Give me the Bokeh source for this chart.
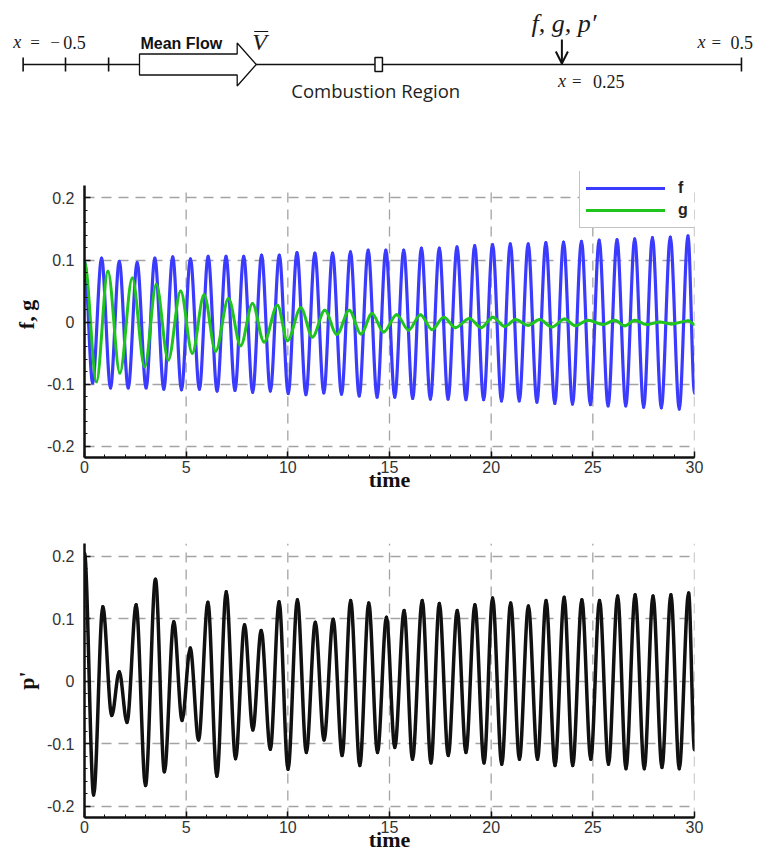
import numpy as np
from bokeh.plotting import figure
from bokeh.layouts import column, row
from bokeh.models import Range1d, FixedTicker, Legend, LegendItem, ColumnDataSource
from bokeh.core.properties import value
from bokeh.embed import file_html
from bokeh.resources import INLINE

# ---------------- data (extrema of each signal) ----------------
F_TIME = [0.00, 0.40, 0.84, 1.28, 1.71, 2.15, 2.59, 3.03, 3.46, 3.90, 4.34, 4.77, 5.21, 5.65,
          6.08, 6.52, 6.96, 7.40, 7.83, 8.27, 8.71, 9.14, 9.58, 10.02, 10.45, 10.89, 11.33,
          11.77, 12.20, 12.64, 13.08, 13.51, 13.95, 14.39, 14.82, 15.26, 15.70, 16.14, 16.57,
          17.01, 17.45, 17.88, 18.32, 18.76, 19.19, 19.63, 20.07, 20.51, 20.94, 21.38, 21.82,
          22.25, 22.69, 23.13, 23.56, 24.00, 24.44, 24.88, 25.31, 25.75, 26.19, 26.62, 27.06,
          27.50, 27.93, 28.37, 28.81, 29.25, 29.68, 30.00]
F_VALUE = [0.098, -0.098, 0.103, -0.106, 0.098, -0.106, 0.096, -0.106, 0.103, -0.108, 0.105,
           -0.109, 0.102, -0.108, 0.106, -0.111, 0.106, -0.110, 0.106, -0.113, 0.108, -0.111,
           0.108, -0.115, 0.112, -0.117, 0.111, -0.114, 0.111, -0.116, 0.113, -0.119, 0.116,
           -0.121, 0.116, -0.121, 0.116, -0.123, 0.119, -0.124, 0.119, -0.124, 0.121, -0.125,
           0.123, -0.125, 0.125, -0.127, 0.126, -0.127, 0.126, -0.129, 0.128, -0.131, 0.129,
           -0.132, 0.130, -0.133, 0.132, -0.135, 0.133, -0.135, 0.134, -0.137, 0.136, -0.138,
           0.137, -0.140, 0.139, -0.115]

G_TIME = [0.00, 0.59, 1.15, 1.74, 2.35, 2.96, 3.53, 4.12, 4.73, 5.30, 5.88, 6.45, 7.08, 7.68,
          8.26, 8.83, 9.49, 9.98, 10.64, 11.21, 11.82, 12.41, 13.02, 13.60, 14.14, 14.71,
          15.35, 15.94, 16.52, 17.09, 17.67, 18.24, 18.93, 19.51, 20.08, 20.66, 21.20, 21.81,
          22.38, 22.99, 23.61, 24.14, 24.76, 25.50, 26.08, 26.57, 27.06, 27.64, 28.29, 28.87,
          29.69, 30.00]
G_VALUE = [0.098, -0.096, 0.082, -0.082, 0.071, -0.072, 0.061, -0.061, 0.050, -0.050, 0.044,
           -0.047, 0.038, -0.038, 0.030, -0.032, 0.027, -0.030, 0.023, -0.024, 0.019, -0.020,
           0.019, -0.019, 0.014, -0.016, 0.012, -0.013, 0.012, -0.012, 0.008, -0.009, 0.006,
           -0.009, 0.008, -0.007, 0.004, -0.005, 0.004, -0.008, 0.005, -0.006, 0.003, -0.004,
           0.003, -0.006, 0.003, -0.004, 0.000, -0.003, 0.002, -0.004]

P_TIME = [0.00, 0.45, 0.90, 1.34, 1.71, 2.09, 2.54, 3.00, 3.49, 3.93, 4.39, 4.80, 5.20, 5.61,
          6.07, 6.51, 6.97, 7.43, 7.87, 8.28, 8.69, 9.14, 9.57, 10.01, 10.47, 10.91, 11.35,
          11.78, 12.23, 12.67, 13.09, 13.54, 13.98, 14.41, 14.85, 15.26, 15.72, 16.13, 16.61,
          17.04, 17.45, 17.89, 18.33, 18.76, 19.20, 19.65, 20.07, 20.52, 20.96, 21.39, 21.83,
          22.28, 22.70, 23.14, 23.59, 24.01, 24.46, 24.90, 25.33, 25.77, 26.22, 26.63, 27.08,
          27.53, 27.96, 28.40, 28.84, 29.25, 29.71, 30.00]
P_VALUE = [0.205, -0.182, 0.119, -0.055, 0.015, -0.066, 0.122, -0.167, 0.163, -0.145, 0.095,
           -0.063, 0.053, -0.094, 0.126, -0.152, 0.143, -0.124, 0.090, -0.078, 0.081, -0.109,
           0.127, -0.141, 0.130, -0.114, 0.094, -0.094, 0.099, -0.119, 0.129, -0.135, 0.125,
           -0.114, 0.102, -0.106, 0.113, -0.125, 0.129, -0.131, 0.124, -0.119, 0.113, -0.114,
           0.122, -0.131, 0.133, -0.133, 0.125, -0.125, 0.120, -0.125, 0.129, -0.135, 0.134,
           -0.135, 0.130, -0.125, 0.129, -0.133, 0.136, -0.140, 0.138, -0.140, 0.136, -0.138,
           0.138, -0.140, 0.141, -0.110]

X_TICKS = [0, 5, 10, 15, 20, 25, 30]
X_TICK_LABELS = ["0", "5", "10", "15", "20", "25", "30"]
Y_TICKS = [-0.2, -0.1, 0.0, 0.1, 0.2]
Y_TICK_LABELS = ["-0.2", "-0.1", "0", "0.1", "0.2"]
SERIES_LABELS = ["f", "g"]
Y_LOW, Y_HIGH = -0.218, 0.22

# schematic (domain coordinates x in [-0.5, 0.5])
DOMAIN = (-0.5, 0.5)
INLET_MARKS = [-0.5, -0.441, -0.381, 0.5]
FLOW_TAIL, FLOW_HEAD_BASE, FLOW_TIP = -0.338, -0.202, -0.1755
FLAME_X = -0.005
PROBE_X = 0.25

SERIF = "Liberation Serif"
SANS = "Liberation Sans"


def txt(p, x, y, text, size, font=SERIF, style="normal", dx=0, align="left", color="#1a1a1a"):
    p.text(x=[x], y=[y], text=[text], x_offset=dx, text_font=value(font),
           text_font_size=size, text_font_style=style, text_align=align,
           text_baseline="middle", text_color=color)


# ---------------- schematic ----------------
sch = figure(width=760, height=124, x_range=Range1d(-0.5315, 0.5265), y_range=Range1d(-60, 64),
             output_backend="svg", toolbar_location=None, min_border=0,
             min_border_left=0, min_border_right=0, min_border_top=0, min_border_bottom=0,
             x_axis_location=None, y_axis_location=None)
sch.grid.visible = False
sch.outline_line_color = None

sch.segment(x0=[DOMAIN[0]], y0=[0], x1=[DOMAIN[1]], y1=[0], line_color="#111111", line_width=1.6)
sch.segment(x0=INLET_MARKS, y0=[-7] * len(INLET_MARKS), x1=INLET_MARKS, y1=[7] * len(INLET_MARKS),
            line_color="#111111", line_width=1.6)
sch.patch(x=[FLOW_TAIL, FLOW_HEAD_BASE, FLOW_HEAD_BASE, FLOW_TIP, FLOW_HEAD_BASE, FLOW_HEAD_BASE, FLOW_TAIL],
          y=[10.5, 10.5, 21.5, 0, -21.5, -10.5, -10.5], fill_color="white", line_color="#111111",
          line_width=1.3)
sch.quad(left=[FLAME_X - 0.0052], right=[FLAME_X + 0.0052], bottom=[-7], top=[7],
         fill_color="white", line_color="#111111", line_width=1.5)
sch.segment(x0=[PROBE_X], y0=[25], x1=[PROBE_X], y1=[1], line_color="#111111", line_width=2)
sch.multi_line(xs=[[PROBE_X - 0.0084, PROBE_X, PROBE_X + 0.0084]], ys=[[13, 1, 13]],
               line_color="#111111", line_width=2)
sch.segment(x0=[FLOW_TIP - 0.0028], y0=[33], x1=[FLOW_TIP + 0.0167], y1=[33],
            line_color="#111111", line_width=1.2)

txt(sch, FLOW_TAIL, 21, "Mean Flow", "16px", font=SANS, style="bold", dx=1, color="#111111")
txt(sch, FLOW_TIP, 22.5, "V", "24px", style="italic", dx=-4)
txt(sch, FLAME_X, -25.5, "Combustion Region", "18.5px", font="Open Sans", align="center", dx=-3,
    color="#222222")
txt(sch, PROBE_X, 41, "f, g, p\u2032", "26px", style="italic", align="center", dx=2)
# x = 0.25
txt(sch, PROBE_X, -16.5, "x", "18px", style="italic", dx=-4)
txt(sch, PROBE_X, -16.5, "=", "17px", dx=10)
txt(sch, PROBE_X, -16.5, "0.25", "18px", dx=31)
# x = -0.5
txt(sch, DOMAIN[0], 22.5, "x", "18px", style="italic", dx=-10)
txt(sch, DOMAIN[0], 22.5, "=", "17px", dx=7)
txt(sch, DOMAIN[0], 22.5, "\u2212", "17px", dx=27)
txt(sch, DOMAIN[0], 22.5, "0.5", "18px", dx=40)
# x = 0.5
txt(sch, DOMAIN[1], 22.5, "x", "18px", style="italic", dx=-44)
txt(sch, DOMAIN[1], 22.5, "=", "17px", dx=-30)
txt(sch, DOMAIN[1], 22.5, "0.5", "18px", dx=-11)


# ---------------- time-history plots ----------------
def make_plot(height, top, bottom, ylabel, y_top, title_standoff):
    p = figure(width=752, height=height, x_range=Range1d(0, 30), y_range=Range1d(Y_LOW, y_top),
               output_backend="svg", toolbar_location=None,
               min_border_left=84, min_border_right=58, min_border_top=top, min_border_bottom=bottom)
    p.outline_line_color = None
    p.background_fill_color = "white"
    p.xaxis.ticker = FixedTicker(ticks=X_TICKS, minor_ticks=list(range(0, 31)))
    p.yaxis.ticker = FixedTicker(ticks=Y_TICKS, minor_ticks=[round(-0.2 + 0.02 * i, 2) for i in range(21)])
    p.ygrid.ticker = FixedTicker(ticks=Y_TICKS)
    p.xgrid.visible = False
    p.xaxis.major_label_overrides = dict(zip(X_TICKS, X_TICK_LABELS))
    p.yaxis.major_label_overrides = dict(zip(Y_TICKS, Y_TICK_LABELS))
    p.yaxis.bounds = (Y_LOW, Y_HIGH)
    p.ygrid.grid_line_color = "#a3a3a3"
    p.ygrid.grid_line_dash = "10 7"
    p.ygrid.grid_line_width = 1.3
    # vertical grid lines at the x ticks, stopping at the top of the axis
    p.segment(x0=X_TICKS, y0=[Y_LOW] * len(X_TICKS), x1=X_TICKS, y1=[Y_HIGH] * len(X_TICKS),
              line_color="#a3a3a3", line_dash="10 7", line_width=1.3, level="underlay")
    for ax in (p.xaxis, p.yaxis):
        ax.axis_line_width = 2.5
        ax.axis_line_color = "#111111"
        ax.major_tick_in = 6
        ax.major_tick_out = 0
        ax.minor_tick_in = 3
        ax.minor_tick_out = 0
        ax.major_tick_line_width = 1.5
        ax.minor_tick_line_width = 1
        ax.major_tick_line_color = "#111111"
        ax.minor_tick_line_color = "#111111"
        ax.major_label_text_font = SANS
        ax.major_label_text_font_size = "16px"
        ax.major_label_text_color = "#333333"
        ax.axis_label_text_font = SERIF
        ax.axis_label_text_font_style = "bold"
        ax.axis_label_text_font_size = "22px"
        ax.axis_label_text_color = "#111111"
    p.xaxis.axis_label = "time"
    p.xaxis.major_label_standoff = 3
    p.xaxis.axis_label_standoff = title_standoff
    p.yaxis.axis_label = ylabel
    p.yaxis.major_label_standoff = 10
    p.yaxis.axis_label_standoff = 5
    return p


def draw_curve(p, t, v, color, width):
    t = np.asarray(t, dtype=float)
    v = np.asarray(v, dtype=float)
    x0, x1, y0, y1 = t[:-1], t[1:], v[:-1], v[1:]
    d = (x1 - x0) / 3.0
    src = ColumnDataSource(dict(x0=x0, y0=y0, x1=x1, y1=y1, cx0=x0 + d, cy0=y0, cx1=x1 - d, cy1=y1))
    return p.bezier(x0="x0", y0="y0", x1="x1", y1="y1", cx0="cx0", cy0="cy0", cx1="cx1", cy1="cy1",
                    source=src, line_color=color, line_width=width, line_cap="round")


# frame of the f,g plot reaches 14 px above the axis top so the legend is not clipped
pfg = make_plot(370, 47, 37, "f, g", 0.2425, -9)
rf = draw_curve(pfg, F_TIME, F_VALUE, "#3b3bff", 3.2)
rg = draw_curve(pfg, G_TIME, G_VALUE, "#1fc41f", 3)
legend = Legend(items=[LegendItem(label=SERIES_LABELS[0], renderers=[rf]),
                       LegendItem(label=SERIES_LABELS[1], renderers=[rg])],
                location=(495, 229), orientation="vertical", glyph_width=79, glyph_height=22,
                label_height=22, label_width=12, label_standoff=13, padding=6, spacing=0, margin=0,
                border_line_color="#888888", border_line_width=1, background_fill_color="white",
                background_fill_alpha=1, label_text_font=SANS, label_text_font_style="bold",
                label_text_font_size="16px", label_text_color="#222222")
pfg.add_layout(legend)

pp = make_plot(360, 49, 37, "p'", Y_HIGH, -9)
draw_curve(pp, P_TIME, P_VALUE, "#111111", 3.5)

layout = column(row(sch), column(pfg, pp))
open("out.html", "w").write(file_html(layout, INLINE))
